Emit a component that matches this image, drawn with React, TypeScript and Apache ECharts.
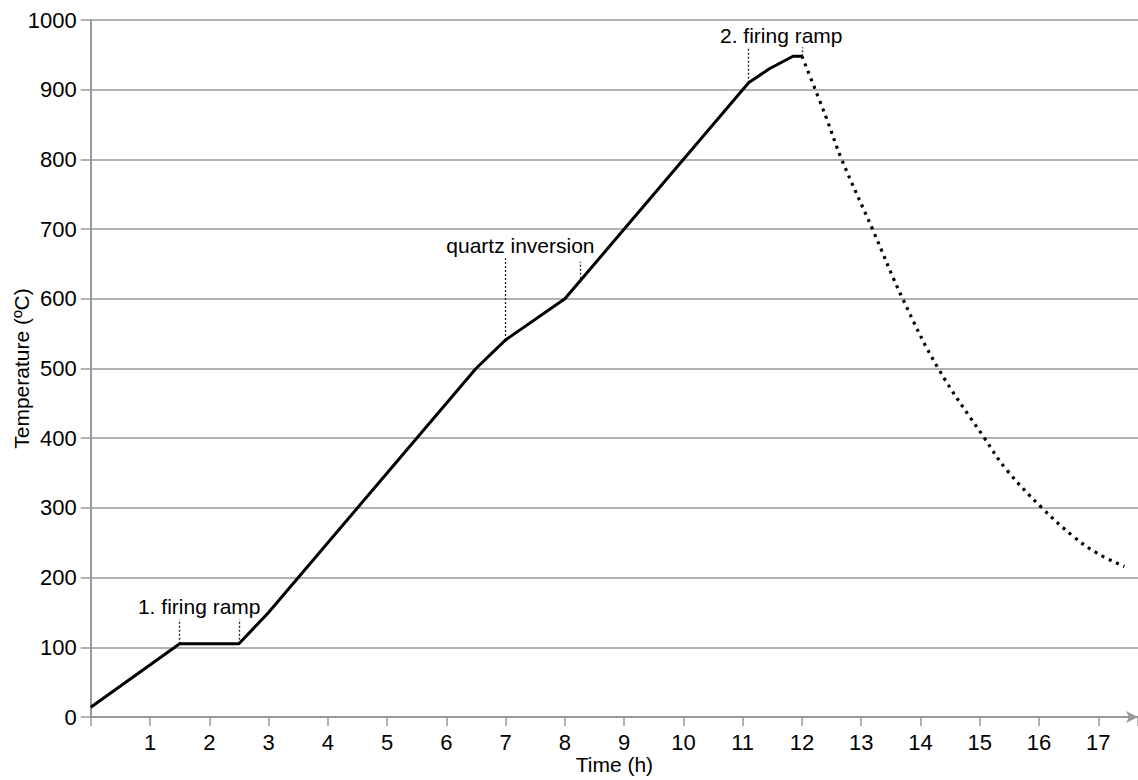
import React, { useEffect, useRef } from "react";
import * as echarts from "echarts";

// Heating (solid) profile: [time h, temperature °C]
const heatingTimes = [0, 1.5, 2.5, 3.0, 6.5, 7.0, 8.0, 11.1, 11.45, 11.85, 12.0];
const heatingTemps = [14, 105, 105, 150, 500, 541, 600, 910, 930, 948, 948];

// Cooling (dotted) profile
const coolingTimes = [12.0, 12.4, 12.67, 13.19, 13.7, 14.3, 15.08, 15.46, 16.05, 16.58, 16.98, 17.44];
const coolingTemps = [948, 862, 800, 700, 600, 500, 400, 354, 300, 259, 235, 216];

// Annotations
const annotationLabels = ["1. firing ramp", "quartz inversion", "2. firing ramp"];
const annotationLabelX = [1.83, 7.25, 11.65];
const annotationLabelY = [158, 677, 978];
// dotted leader lines: [x, yFrom, yTo]
const leaderX = [1.5, 2.5, 7.0, 8.26, 11.1, 12.0];
const leaderFrom = [105, 105, 541, 623, 910, 948];
const leaderTo = [140, 140, 658, 653, 961, 961];

const yTicks = [0, 100, 200, 300, 400, 500, 600, 700, 800, 900, 1000];

const FONT = "'Liberation Sans', Arial, sans-serif";
const TEXT = "#000";

export default function App() {
  const ref = useRef<HTMLDivElement>(null);
  useEffect(() => {
    if (!ref.current) return;
    const chart = echarts.init(ref.current, null, { renderer: "svg" });
    const heating = heatingTimes.map((t, i) => [t, heatingTemps[i]]);
    const cooling = coolingTimes.map((t, i) => [t, coolingTemps[i]]);
    const leaders = leaderX.map((x, i) => [
      { coord: [x, leaderFrom[i]] },
      { coord: [x, leaderTo[i]] },
    ]);
    const labels = annotationLabels.map((n, i) => ({
      name: n,
      value: [annotationLabelX[i], annotationLabelY[i]],
    }));
    chart.setOption({
      animation: false,
      backgroundColor: "#fff",
      textStyle: { fontFamily: FONT },
      grid: {
        left: 90.75,
        right: 0,
        top: 20,
        bottom: 63,
        containLabel: false,
        outerBoundsMode: "none",
      },
      xAxis: {
        type: "value",
        min: 0,
        max: 17.67,
        interval: 1,
        name: "Time (h)",
        nameLocation: "middle",
        nameGap: 37,
        nameMoveOverlap: false,
        nameTextStyle: { fontSize: 21, color: TEXT, fontFamily: FONT },
        axisLine: {
          show: true,
          symbol: ["none", "arrow"],
          symbolSize: [9, 12],
          lineStyle: { color: "#999", width: 2 },
        },
        axisTick: { show: true, length: 9, lineStyle: { color: "#999", width: 1.5 } },
        axisLabel: {
          fontSize: 22,
          color: TEXT,
          margin: 14,
          fontFamily: FONT,
          formatter: (v: number) => (v === 0 || v > 17.01 ? "" : String(v)),
        },
        splitLine: { show: false },
      },
      yAxis: {
        type: "value",
        min: yTicks[0],
        max: yTicks[yTicks.length - 1],
        interval: 100,
        name: "Temperature (ºC)",
        nameLocation: "middle",
        nameGap: 59,
        nameMoveOverlap: false,
        nameTextStyle: { fontSize: 21, color: TEXT, fontFamily: FONT },
        axisLine: { show: true, lineStyle: { color: "#999", width: 2 } },
        axisTick: { show: true, length: 10, lineStyle: { color: "#999", width: 1.5 } },
        axisLabel: {
          fontSize: 22,
          color: TEXT,
          margin: 14,
          fontFamily: FONT,
          formatter: (v: number) => String(v),
        },
        splitLine: { show: true, lineStyle: { color: "#999", width: 1.5 } },
      },
      series: [
        {
          type: "line",
          data: heating,
          symbol: "none",
          lineStyle: { color: "#000", width: 3 },
          z: 5,
          markLine: {
            silent: true,
            symbol: "none",
            label: { show: false },
            lineStyle: { color: "#222", width: 1.3, type: [2, 2] },
            data: leaders,
          },
        },
        {
          type: "line",
          data: cooling,
          symbol: "none",
          smooth: 0.4,
          lineStyle: { color: "#000", width: 3.2, type: [3, 5], cap: "butt" },
          z: 5,
        },
        {
          type: "scatter",
          data: labels,
          symbolSize: 1,
          itemStyle: { color: "rgba(0,0,0,0)" },
          label: {
            show: true,
            position: "top",
            distance: 0,
            offset: [0, 11],
            formatter: (p: any) => p.name,
            fontSize: 21,
            color: TEXT,
            opacity: 1,
            textBorderWidth: 0,
            fontFamily: FONT,
          },
          z: 6,
        },
      ],
    });
    return () => chart.dispose();
  }, []);
  return (
    <div
      ref={ref}
      style={{ position: "fixed", left: 0, top: 0, width: 1138, height: 780, background: "#fff" }}
    />
  );
}
